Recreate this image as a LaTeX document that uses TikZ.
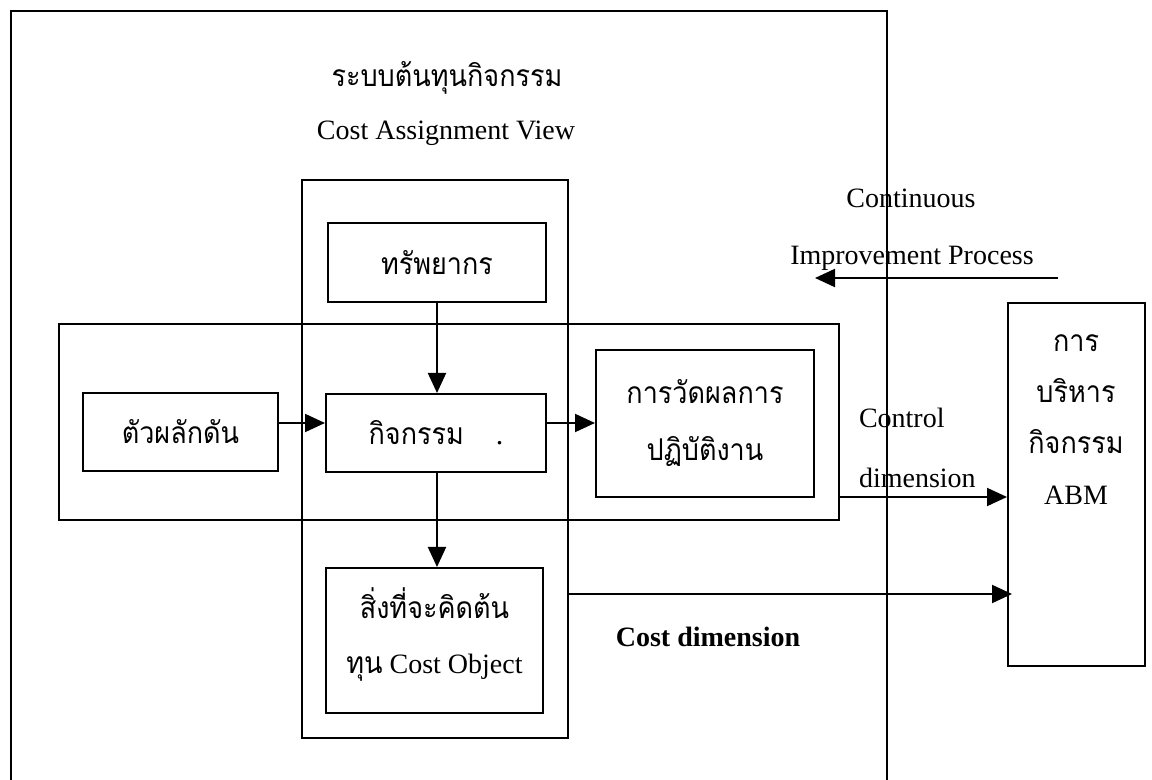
\documentclass[tikz,border=0pt]{standalone}
\usepackage{fontspec}
\setmainfont{Liberation Serif}
\newfontfamily\thai[Script=Thai,FakeStretch=0.9]{Loma}
\usetikzlibrary{arrows.meta}
\begin{document}
\begin{tikzpicture}[x=0.5pt,y=-0.5pt,line width=1pt,
  box/.style={draw,line width=1pt,inner sep=0pt,align=center},
  arr/.style={-{Triangle[length=10pt,width=9pt]},line width=1pt},
  th/.style={font=\thai\fontsize{15}{28.5}\selectfont},
  en/.style={font=\fontsize{14}{28}\selectfont}]
\useasboundingbox (0,0) rectangle (1152,780);
% outer frame (open at bottom)
\draw (11,780) -- (11,11) -- (887,11) -- (887,780);
% big boxes
\node[box,minimum width=133pt,minimum height=279pt] (cav) at (435,459) {};
\node[box,minimum width=390pt,minimum height=98pt] (hbox) at (449,422) {};
% titles
\node[th,font=\thai\fontsize{15}{20}\selectfont] (title) at (447,78) {ระบบต้นทุนกิจกรรม};
\node[en] (cav-title) at (446,133) {Cost Assignment View};
% inner boxes
\node[box,th,minimum width=109pt,minimum height=39.5pt] (res) at (437,262.5) {ทรัพยากร};
\node[box,th,minimum width=97.5pt,minimum height=39pt] (drv) at (180.5,432) {ตัวผลักดัน};
\node[box,th,minimum width=110pt,minimum height=39pt] (act) at (436,433) {กิจกรรม\hspace{16pt}{\rmfamily .}};
\node[box,th,minimum width=109pt,minimum height=73.5pt] (perf) at (705,423.5) {การวัดผลการ\\ปฏิบัติงาน};
\node[box,minimum width=108.5pt,minimum height=72.5pt] (cobj) at (434.5,640.5) {};
\node[align=center,font=\fontsize{14}{27.5}\selectfont] (cobj-text) at (434.5,634) {{\thai\fontsize{15}{27.5}\selectfont สิ่งที่จะคิดต้น}\\{\thai\fontsize{15}{27.5}\selectfont ทุน} Cost Object};
\node[box,minimum width=68.5pt,minimum height=181.5pt] (abm) at (1076.5,484.5) {};
\node[align=center,font=\fontsize{14}{25.5}\selectfont] (abm-text) at (1076,420) {{\thai\fontsize{15}{25.5}\selectfont การ}\\{\thai\fontsize{15}{25.5}\selectfont บริหาร}\\{\thai\fontsize{15}{25.5}\selectfont กิจกรรม}\\ABM};
% side labels
\node[en] (cont) at (911,198) {Continuous};
\node[en] (imp) at (912,258) {Improvement Process};
\node[en,anchor=west,inner sep=0pt] (ctrl) at (858,418) {Control};
\node[en,anchor=west,inner sep=0pt] (dim) at (858,478) {dimension};
\node[en,font=\bfseries\fontsize{14}{28}\selectfont] (costdim) at (708,637) {Cost dimension};
% connectors
\coordinate (row) at (0,423);
\coordinate (col) at (437,0);
\draw[arr] (res.south -| col) -- (act.north -| col);
\draw[arr] (drv.east |- row) -- (act.west |- row);
\draw[arr] (act.east |- row) -- (perf.west |- row);
\draw[arr] (act.south -| col) -- (cobj.north -| col);
\coordinate (impstart) at (1058,278);
\coordinate (impend) at (815,278);
\draw[arr] (impstart) -- (impend);
\coordinate (ctrlstart) at (839,497);
\draw[arr] (ctrlstart) -- (ctrlstart -| abm.west);
\coordinate (coststart) at (568,594);
\draw[arr] (coststart) -- ([xshift=2.5pt]coststart -| abm.west);
\end{tikzpicture}
\end{document}
